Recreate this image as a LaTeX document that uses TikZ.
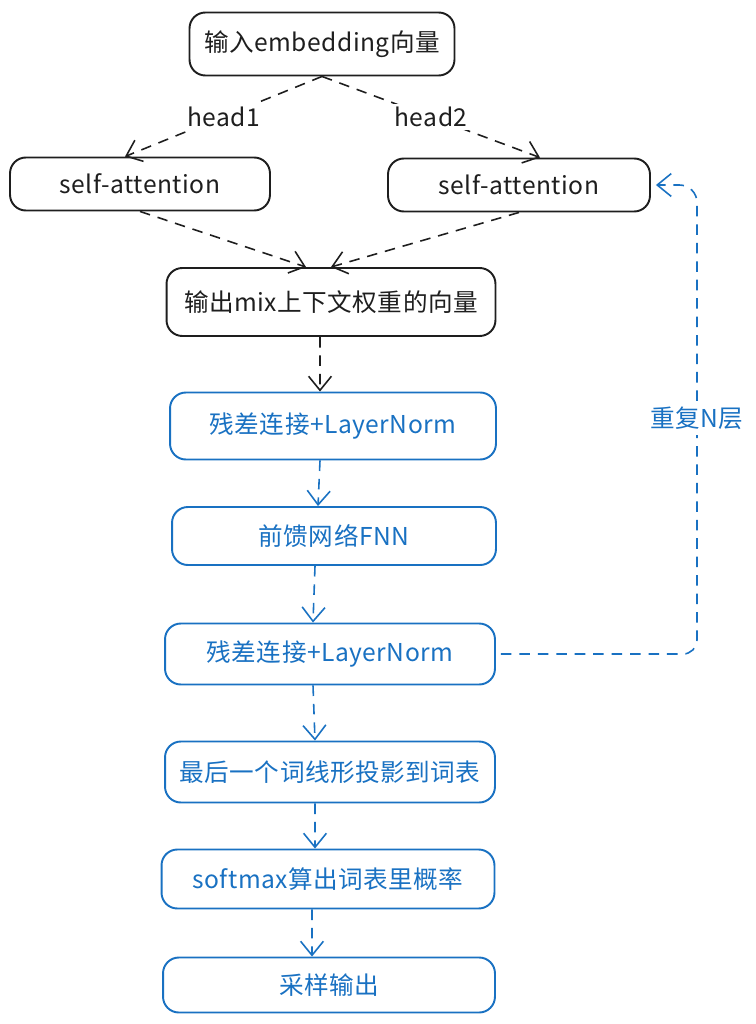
\documentclass[tikz,border=0pt]{standalone}
\usepackage{fontspec}
\setmainfont{Noto Sans CJK SC}[LetterSpace=2.0]
\usetikzlibrary{arrows.meta}

\definecolor{skink}{HTML}{1E1E1E}
\definecolor{skblue}{HTML}{1971C2}

\tikzset{
  box/.style={draw=skink, text=skink, rounded corners=9pt, line width=1.1pt,
    inner sep=0pt, font=\fontsize{14}{16}\selectfont},
  bluebox/.style={box, draw=skblue, text=skblue},
  dasharrow/.style={draw=skink, line width=0.9pt, dash pattern=on 6pt off 4.5pt,
    -{Straight Barb[length=8pt,width=13pt]}},
  bluearrow/.style={dasharrow, draw=skblue},
  headlabel/.style={fill=white, text=skink, inner sep=2pt, font=\fontsize{14}{16}\selectfont},
  replabel/.style={text=skblue, inner sep=3pt, font=\fontsize{14}{16}\selectfont},
}

\begin{document}
\begin{tikzpicture}[x=0.02cm, y=-0.02cm]
    \useasboundingbox (0,0) rectangle (756,1024);
    % attention part
    \node[box, minimum width=5.3cm, minimum height=1.26cm] (emb) at (322,44) {输入embedding向量};
    \node[box, minimum width=5.2cm, minimum height=1.06cm] (sa1) at (140,184) {self-attention};
    \node[box, minimum width=5.24cm, minimum height=1.06cm] (sa2) at (519,185) {self-attention};
    \node[box, minimum width=6.58cm, minimum height=1.36cm] (mix) at (331,302) {输出mix上下文权重的向量};
    % decoder block
    \node[bluebox, minimum width=6.52cm, minimum height=1.34cm] (ln1) at (333,426) {残差连接+LayerNorm};
    \node[bluebox, minimum width=6.48cm, minimum height=1.16cm] (fnn) at (334,536) {前馈网络FNN};
    \node[bluebox, minimum width=6.6cm, minimum height=1.22cm] (ln2) at (330,654) {残差连接+LayerNorm};
    \node[bluebox, minimum width=6.6cm, minimum height=1.22cm] (proj) at (330,772) {最后一个词线形投影到词表};
    \node[bluebox, minimum width=6.66cm, minimum height=1.18cm] (soft) at (328,879) {softmax算出词表里概率};
    \node[bluebox, minimum width=6.64cm, minimum height=1.1cm] (samp) at (329,985) {采样输出};
    \node[replabel] (rep) at (697,418) {重复N层};

    \draw[dasharrow] (emb.south) -- node[headlabel] {head1} ([xshift=-0.3cm]sa1.north);
    \draw[dasharrow] (emb.south) -- node[headlabel] {head2} ([xshift=0.42cm]sa2.north);
    \draw[dasharrow] (sa1.south) -- ([xshift=-0.5cm]mix.north);
    \draw[dasharrow] (sa2.south) -- (mix.north);
    \draw[dasharrow] ([xshift=-0.22cm]mix.south) -- ([xshift=-0.26cm]ln1.north);
    \draw[bluearrow] ([xshift=-0.26cm]ln1.south) -- ([xshift=-0.32cm]fnn.north);
    \draw[bluearrow] ([xshift=-0.38cm]fnn.south) -- ([xshift=-0.34cm]ln2.north);
    \draw[bluearrow] ([xshift=-0.34cm]ln2.south) -- ([xshift=-0.3cm]proj.north);
    \draw[bluearrow] ([xshift=-0.3cm]proj.south) -- ([xshift=-0.26cm]soft.north);
    \draw[bluearrow] ([xshift=-0.32cm]soft.south) -- ([xshift=-0.34cm]samp.north);
    % repeat loop
    \draw[bluearrow, -, rounded corners=8pt] ([xshift=0.1cm]ln2.east) -| (rep.south);
    \draw[bluearrow, rounded corners=10pt] (rep.north) |- ([xshift=0.1cm]sa2.east);
\end{tikzpicture}
\end{document}
